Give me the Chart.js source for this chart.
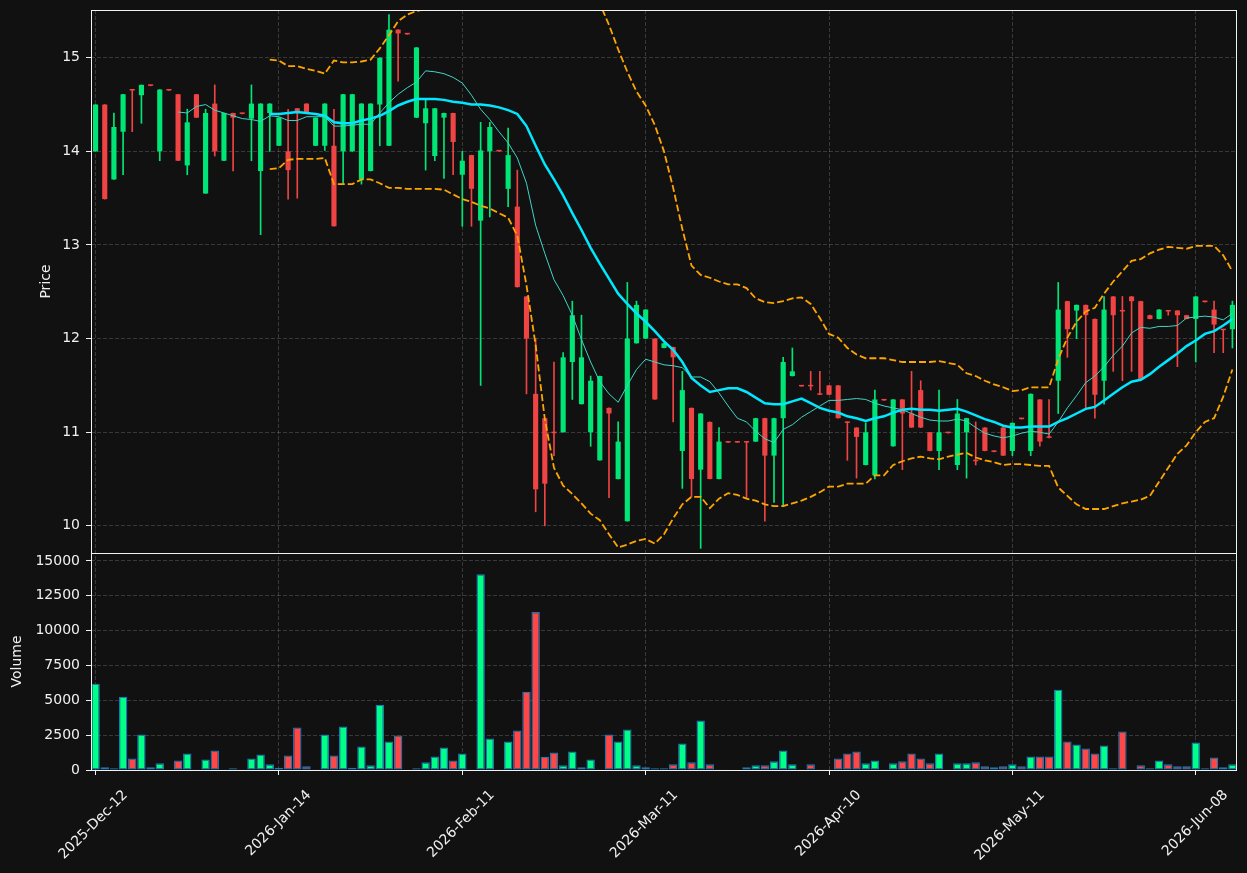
<!DOCTYPE html>
<html>
<head>
<meta charset="utf-8">
<script src="https://cdn.jsdelivr.net/npm/chart.js@4/dist/chart.umd.min.js"></script>
<style>
  html, body { margin: 0; padding: 0; background: #111111; }
  canvas { display: block; }
</style>
</head>
<body>
<canvas id="priceChart" width="1247" height="873"></canvas>
<script>
/*
 * Candles, moving averages, bands and volume, one row per session (index 0..124)
 */
const tickIdx = [0, 20, 40, 60, 80, 100, 120];
const tickLabels = ['2025-Dec-12', '2026-Jan-14', '2026-Feb-11', '2026-Mar-11', '2026-Apr-10', '2026-May-11', '2026-Jun-08'];
const priceTicks = [10, 11, 12, 13, 14, 15];
const volumeTicks = [0, 2500, 5000, 7500, 10000, 12500, 15000];

const opens = [
    14.00, 14.50, 13.70, 14.21, 14.66, 14.60, 14.71, 14.00, 14.66, 14.61,
    13.85, 14.61, 13.55, 14.51, 13.90, 14.41, 14.41, 14.35, 13.79, 14.41,
    14.06, 14.00, 14.46, 14.51, 14.06, 14.06, 14.06, 14.00, 14.00, 13.70,
    13.79, 14.50, 14.06, 15.30, 15.26, 14.36, 14.30, 13.95, 14.36, 14.41,
    13.75, 13.96, 13.26, 14.00, 14.01, 13.60, 13.41, 12.45, 11.41, 11.15,
    11.00, 11.00, 11.75, 11.30, 11.00, 10.70, 11.26, 10.50, 10.05, 11.95,
    12.00, 12.00, 11.90, 11.91, 10.80, 11.26, 10.60, 11.11, 10.50, 10.90,
    10.90, 10.90, 10.90, 11.15, 10.75, 11.15, 11.60, 11.50, 11.50, 11.41,
    11.50, 11.50, 11.11, 11.05, 10.65, 10.54, 11.35, 10.85, 11.35, 11.20,
    11.45, 11.00, 10.80, 11.00, 10.65, 11.00, 10.70, 11.05, 10.80, 11.05,
    10.80, 11.15, 10.80, 11.35, 10.95, 11.55, 12.40, 12.30, 12.36, 12.21,
    11.55, 12.45, 12.30, 12.45, 12.40, 12.25, 12.21, 12.30, 12.30, 12.25,
    12.21, 12.40, 12.31, 12.10, 12.10
];
const highs = [
    14.50, 14.50, 14.41, 14.61, 14.66, 14.71, 14.71, 14.66, 14.66, 14.61,
    14.45, 14.61, 14.45, 14.71, 14.41, 14.41, 14.41, 14.71, 14.51, 14.51,
    14.36, 14.45, 14.46, 14.51, 14.36, 14.51, 14.45, 14.61, 14.61, 14.51,
    14.51, 15.00, 15.46, 15.30, 15.26, 15.11, 14.55, 14.46, 14.41, 14.41,
    14.00, 13.96, 14.31, 14.31, 14.01, 14.25, 13.80, 12.45, 12.00, 11.15,
    11.75, 11.85, 12.40, 12.25, 11.60, 11.60, 11.26, 11.11, 12.60, 12.40,
    12.31, 12.00, 11.95, 11.91, 11.65, 11.26, 11.20, 11.11, 11.05, 10.90,
    10.90, 10.90, 11.15, 11.15, 11.15, 11.80, 11.90, 11.50, 11.65, 11.65,
    11.50, 11.50, 11.11, 11.05, 11.10, 11.45, 11.35, 11.35, 11.35, 11.65,
    11.55, 11.00, 11.45, 11.00, 11.35, 11.15, 11.11, 11.05, 10.80, 11.05,
    11.10, 11.15, 11.41, 11.35, 11.35, 12.60, 12.40, 12.36, 12.36, 12.21,
    12.45, 12.45, 12.45, 12.45, 12.40, 12.25, 12.31, 12.30, 12.30, 12.25,
    12.45, 12.40, 12.40, 12.10, 12.40
];
const lows = [
    14.00, 13.49, 13.70, 13.75, 14.21, 14.30, 14.70, 13.90, 14.65, 13.90,
    13.75, 14.36, 13.55, 13.95, 13.90, 13.79, 14.40, 13.90, 13.11, 14.00,
    14.06, 13.49, 13.50, 14.41, 14.06, 14.01, 13.20, 13.65, 14.00, 13.65,
    13.79, 14.06, 14.06, 14.75, 15.25, 14.36, 13.80, 13.90, 13.71, 13.75,
    13.20, 13.20, 11.50, 13.30, 14.00, 13.41, 12.55, 11.41, 10.15, 10.00,
    10.75, 11.00, 11.35, 11.30, 10.85, 10.70, 10.30, 10.50, 10.05, 11.95,
    12.00, 11.35, 11.90, 11.11, 10.40, 10.31, 9.76, 10.50, 10.50, 10.89,
    10.89, 10.30, 10.90, 10.05, 10.25, 10.21, 11.60, 11.49, 11.45, 11.40,
    11.40, 11.15, 10.70, 10.51, 10.65, 10.50, 11.34, 10.85, 10.60, 11.05,
    11.05, 10.80, 10.60, 10.99, 10.60, 10.51, 10.65, 10.80, 10.79, 10.75,
    10.75, 11.14, 10.75, 10.85, 10.94, 11.20, 11.80, 12.00, 11.26, 11.15,
    11.30, 11.65, 11.55, 11.65, 11.56, 12.21, 12.21, 12.25, 11.70, 12.21,
    11.75, 12.39, 11.85, 11.85, 11.90
];
const closes = [
    14.50, 13.49, 14.26, 14.61, 14.65, 14.71, 14.70, 14.66, 14.65, 13.90,
    14.31, 14.36, 14.41, 14.00, 14.41, 14.36, 14.40, 14.51, 14.51, 14.51,
    14.36, 13.80, 14.43, 14.41, 14.36, 14.51, 13.20, 14.61, 14.61, 14.51,
    14.51, 15.00, 15.30, 15.26, 15.25, 15.11, 14.46, 14.46, 14.41, 14.10,
    13.90, 13.60, 14.01, 14.26, 14.00, 13.96, 12.55, 12.00, 10.39, 10.45,
    10.99, 11.80, 12.25, 11.80, 11.55, 11.60, 11.20, 10.90, 12.00, 12.36,
    12.31, 11.35, 11.95, 11.80, 11.45, 10.50, 11.20, 10.50, 10.90, 10.89,
    10.89, 10.89, 11.15, 10.75, 11.15, 11.75, 11.65, 11.49, 11.49, 11.40,
    11.40, 11.15, 11.10, 10.95, 11.00, 11.35, 11.34, 11.35, 11.20, 11.05,
    11.05, 10.80, 11.00, 10.99, 11.20, 11.15, 10.69, 10.80, 10.79, 10.75,
    11.10, 11.14, 11.41, 10.90, 10.94, 12.31, 12.10, 12.36, 12.25, 11.40,
    12.31, 12.25, 12.29, 12.40, 11.56, 12.21, 12.31, 12.29, 12.25, 12.21,
    12.45, 12.39, 12.15, 12.09, 12.36
];
const volumes = [
    6190, 190, 120, 5262, 833, 2548, 190, 476, 30, 690,
    1190, 50, 762, 1405, 50, 120, 20, 833, 1119, 405,
    167, 1048, 3048, 262, 50, 2548, 1048, 3119, 167, 1690,
    333, 4690, 2048, 2476, 0, 120, 548, 976, 1619, 690,
    1190, 50, 14048, 2262, 50, 2048, 2833, 5619, 11333, 952,
    1262, 333, 1333, 190, 762, 50, 2548, 2048, 2905, 333,
    190, 120, 120, 405, 1905, 548, 3548, 405, 50, 0,
    0, 190, 333, 333, 619, 1405, 405, 50, 405, 50,
    20, 833, 1190, 1333, 476, 690, 50, 476, 619, 1190,
    833, 476, 1190, 0, 476, 476, 548, 262, 190, 262,
    405, 262, 976, 976, 976, 5762, 2048, 1833, 1548, 1190,
    1762, 120, 2762, 0, 333, 120, 690, 405, 262, 262,
    1976, 120, 905, 190, 405
];

// short average (thin line), starts at index 9
const maShort = [
    null, null, null, null, null, null, null, null, null, 14.42,
    14.41, 14.48, 14.50, 14.44, 14.41, 14.38, 14.35, 14.34, 14.32, 14.38,
    14.37, 14.33, 14.33, 14.37, 14.37, 14.37, 14.27, 14.27, 14.28, 14.29,
    14.29, 14.41, 14.52, 14.61, 14.68, 14.74, 14.86, 14.85, 14.83, 14.79,
    14.73, 14.60, 14.45, 14.34, 14.21, 14.09, 13.93, 13.66, 13.21, 12.91,
    12.63, 12.46, 12.25, 11.99, 11.75, 11.54, 11.41, 11.32, 11.50, 11.67,
    11.78, 11.75, 11.72, 11.71, 11.69, 11.59, 11.59, 11.54, 11.42, 11.28,
    11.15, 11.11, 11.01, 10.93, 10.89, 11.03, 11.08, 11.16, 11.22, 11.28,
    11.34, 11.34, 11.35, 11.36, 11.35, 11.31, 11.28, 11.26, 11.24, 11.20,
    11.16, 11.13, 11.12, 11.12, 11.14, 11.12, 11.05, 10.99, 10.96, 10.94,
    10.96, 10.99, 11.01, 11.00, 10.98, 11.11, 11.26, 11.39, 11.53, 11.60,
    11.70, 11.82, 11.92, 12.06, 12.12, 12.11, 12.13, 12.13, 12.14, 12.22,
    12.23, 12.24, 12.23, 12.20, 12.27
];
// long average (thick line), starts at index 19
const maLong = [
    null, null, null, null, null, null, null, null, null, null,
    null, null, null, null, null, null, null, null, null, 14.40,
    14.40, 14.41, 14.42, 14.41, 14.40, 14.38, 14.31, 14.30, 14.30, 14.33,
    14.35, 14.38, 14.43, 14.49, 14.53, 14.56, 14.56, 14.56, 14.55, 14.53,
    14.52, 14.50, 14.50, 14.49, 14.47, 14.44, 14.40, 14.27, 14.06, 13.86,
    13.70, 13.53, 13.34, 13.16, 12.97, 12.80, 12.64, 12.48, 12.37, 12.27,
    12.18, 12.08, 11.97, 11.88, 11.75, 11.58, 11.50, 11.43, 11.45, 11.47,
    11.47, 11.43, 11.37, 11.31, 11.30, 11.30, 11.33, 11.36, 11.31, 11.26,
    11.23, 11.21, 11.17, 11.15, 11.12, 11.15, 11.17, 11.21, 11.24, 11.25,
    11.24, 11.24, 11.23, 11.24, 11.25, 11.22, 11.18, 11.14, 11.11, 11.07,
    11.05, 11.05, 11.06, 11.06, 11.06, 11.11, 11.15, 11.20, 11.25, 11.27,
    11.34, 11.41, 11.48, 11.54, 11.56, 11.62, 11.70, 11.77, 11.84, 11.92,
    11.98, 12.05, 12.08, 12.14, 12.21
];
const bandUpper = [
    null, null, null, null, null, null, null, null, null, null,
    null, null, null, null, null, null, null, null, null, 14.98,
    14.97, 14.91, 14.91, 14.88, 14.86, 14.83, 14.97, 14.95, 14.95, 14.96,
    14.98, 15.10, 15.24, 15.39, 15.46, 15.50, 15.52, 15.52, 15.52, 15.53,
    15.56, 15.58, 15.60, 15.62, 15.64, 15.66, 15.70, 15.80, 15.92, 16.00,
    16.02, 15.98, 15.90, 15.80, 15.70, 15.58, 15.35, 15.09, 14.85, 14.64,
    14.49, 14.28, 14.00, 13.61, 13.17, 12.78, 12.68, 12.65, 12.61, 12.58,
    12.58, 12.54, 12.43, 12.39, 12.38, 12.40, 12.43, 12.44, 12.37, 12.22,
    12.05, 12.01, 11.90, 11.83, 11.79, 11.79, 11.79, 11.77, 11.75, 11.75,
    11.75, 11.75, 11.76, 11.74, 11.72, 11.63, 11.60, 11.55, 11.51, 11.48,
    11.44, 11.45, 11.48, 11.48, 11.48, 11.78, 12.01, 12.18, 12.29, 12.33,
    12.48, 12.61, 12.72, 12.83, 12.85, 12.91, 12.95, 12.98, 12.97, 12.96,
    12.99, 12.99, 12.99, 12.89, 12.72
];
const bandLower = [
    null, null, null, null, null, null, null, null, null, null,
    null, null, null, null, null, null, null, null, null, 13.81,
    13.82, 13.91, 13.92, 13.92, 13.92, 13.93, 13.65, 13.65, 13.65, 13.70,
    13.70, 13.66, 13.61, 13.61, 13.60, 13.60, 13.60, 13.60, 13.59, 13.54,
    13.49, 13.46, 13.42, 13.39, 13.34, 13.29, 13.10, 12.57, 11.93, 11.14,
    10.62, 10.43, 10.34, 10.24, 10.13, 10.06, 9.91, 9.77, 9.80, 9.84,
    9.86, 9.81, 9.91, 10.08, 10.23, 10.31, 10.31, 10.19, 10.29, 10.35,
    10.33, 10.29, 10.27, 10.23, 10.21, 10.21, 10.24, 10.27, 10.31, 10.36,
    10.42, 10.42, 10.45, 10.45, 10.45, 10.54, 10.54, 10.65, 10.69, 10.72,
    10.74, 10.72, 10.71, 10.74, 10.76, 10.78, 10.73, 10.70, 10.68, 10.65,
    10.66, 10.66, 10.65, 10.64, 10.64, 10.41, 10.32, 10.23, 10.18, 10.18,
    10.18, 10.21, 10.24, 10.26, 10.28, 10.32, 10.47, 10.62, 10.77, 10.86,
    11.00, 11.11, 11.15, 11.38, 11.67
];

/*
 * Colours
 */
const candleUp = '#00e676';
const candleDown = '#f04343';
const volUp = '#00ff88';
const volDown = '#ff4747';
const isUp = closes.map((c, i) => c >= opens[i]);

Chart.defaults.font.family = 'DejaVu Sans';
Chart.defaults.font.size = 14;
Chart.defaults.color = '#f0f0f0';

// white frame round both panels
const panelFrame = {
    id: 'panelFrame',
    afterDraw(chart) {
        const { ctx, scales } = chart;
        const x = scales.x;
        ctx.save();
        ctx.strokeStyle = '#f2f2f2';
        ctx.lineWidth = 1;
        [scales.y, scales.yv].forEach(s => {
            ctx.strokeRect(Math.round(x.left) + 0.5, Math.round(s.top) + 0.5,
                Math.round(x.right - x.left) - 1, Math.round(s.bottom - s.top));
        });
        ctx.restore();
    }
};

// fixed axis box, no extra padding for the end labels
const fixWidth = (s) => {
    s.width = 91;
    s.paddingTop = 0;
    s.paddingBottom = 0;
};

const gridColor = 'rgba(255, 255, 255, 0.17)';

new Chart(document.getElementById('priceChart'), {
    type: 'bar',
    data: {
        labels: opens.map((_, i) => i),
        datasets: [
            {
                type: 'line', label: 'MA short', data: maShort, yAxisID: 'y',
                borderColor: '#3fd6c6', borderWidth: 1, pointRadius: 0, order: 0
            },
            {
                type: 'line', label: 'MA long', data: maLong, yAxisID: 'y',
                borderColor: '#00e8ff', borderWidth: 2.5, pointRadius: 0, order: 0
            },
            {
                type: 'line', label: 'Upper', data: bandUpper, yAxisID: 'y',
                borderColor: '#ffa500', borderWidth: 1.8, borderDash: [7, 3], pointRadius: 0, order: 0
            },
            {
                type: 'line', label: 'Lower', data: bandLower, yAxisID: 'y',
                borderColor: '#ffa500', borderWidth: 1.8, borderDash: [7, 3], pointRadius: 0, order: 0
            },
            {
                label: 'Body', yAxisID: 'y',
                data: opens.map((o, i) => [o, closes[i]]),
                backgroundColor: isUp.map(u => u ? candleUp : candleDown),
                barPercentage: 0.56, categoryPercentage: 1, minBarLength: 1.5, order: 2
            },
            {
                label: 'Wick', yAxisID: 'y',
                data: lows.map((l, i) => [l, highs[i]]),
                backgroundColor: isUp.map(u => u ? candleUp : candleDown),
                barThickness: 1, order: 3
            },
            {
                label: 'Volume', yAxisID: 'yv',
                data: volumes,
                backgroundColor: isUp.map(u => u ? volUp : volDown),
                borderColor: '#1f77b4', borderWidth: 1.3, borderSkipped: false,
                barPercentage: 0.92, categoryPercentage: 1, order: 3
            }
        ]
    },
    options: {
        responsive: false,
        animation: false,
        devicePixelRatio: 1,
        layout: { padding: { left: 0, top: 10, right: 10, bottom: 0 } },
        plugins: {
            legend: { display: false },
            tooltip: { enabled: false }
        },
        scales: {
            x: {
                stacked: true,
                offset: true,
                afterBuildTicks: (s) => { s.ticks = s.ticks.filter(t => tickIdx.includes(t.value)); },
                afterFit: (s) => { s.height = 103; },
                grid: {
                    offset: false, color: gridColor, tickColor: '#f2f2f2',
                    tickLength: 5, tickBorderDash: []
                },
                border: { display: false, dash: [4, 2] },
                ticks: {
                    autoSkip: false, minRotation: 45, maxRotation: 45,
                    labelOffset: 30, padding: 12,
                    callback: (v) => tickLabels[tickIdx.indexOf(v)]
                }
            },
            y: {
                type: 'linear', position: 'left', stack: 'panels', stackWeight: 543, weight: 1,
                min: 9.71, max: 15.51,
                afterFit: fixWidth,
                afterBuildTicks: (s) => { s.ticks = priceTicks.map(v => ({ value: v })); },
                title: { display: true, text: 'Price', padding: { top: 38, bottom: 0 } },
                grid: { color: gridColor, tickColor: '#f2f2f2', tickLength: 5, tickBorderDash: [] },
                border: { display: false, dash: [4, 2] },
                ticks: { padding: 6, callback: (v) => String(v) }
            },
            yv: {
                type: 'linear', position: 'left', stack: 'panels', stackWeight: 217, weight: 0,
                min: 0, max: 15570,
                afterFit: fixWidth,
                afterBuildTicks: (s) => { s.ticks = volumeTicks.map(v => ({ value: v })); },
                title: { display: true, text: 'Volume', padding: { top: 9, bottom: 0 } },
                grid: { color: gridColor, tickColor: '#f2f2f2', tickLength: 5, tickBorderDash: [] },
                border: { display: false, dash: [4, 2] },
                ticks: { padding: 6, callback: (v) => String(v) }
            }
        }
    },
    plugins: [panelFrame]
});
</script>
</body>
</html>
